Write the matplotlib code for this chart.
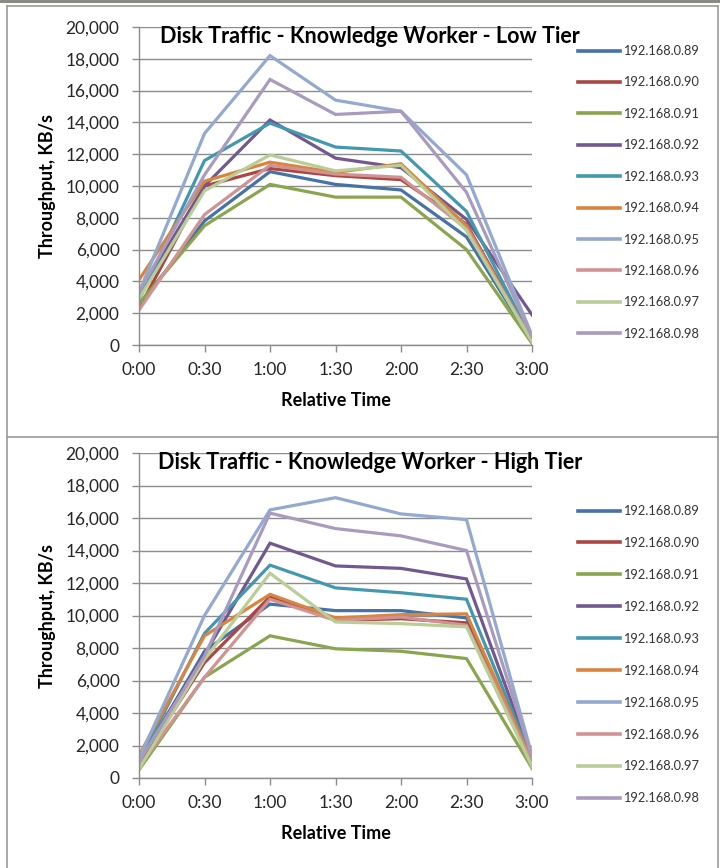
import matplotlib
matplotlib.use("Agg")
import matplotlib.pyplot as plt
from matplotlib.ticker import FuncFormatter, FixedLocator
from matplotlib.lines import Line2D
from matplotlib.patches import Rectangle

plt.rcParams['font.family'] = ['Lato', 'DejaVu Sans']

# ---- data -------------------------------------------------------------
times = ['0:00', '0:30', '1:00', '1:30', '2:00', '2:30', '3:00']
hosts = ['192.168.0.89', '192.168.0.90', '192.168.0.91', '192.168.0.92',
         '192.168.0.93', '192.168.0.94', '192.168.0.95', '192.168.0.96',
         '192.168.0.97', '192.168.0.98']

low_89 = [2500, 7800, 10900, 10100, 9750, 6800, 200]
low_90 = [2300, 10000, 11100, 10650, 10400, 7600, 300]
low_91 = [2600, 7500, 10100, 9300, 9300, 6000, 100]
low_92 = [3200, 10000, 14150, 11750, 11150, 7900, 1900]
low_93 = [2800, 11600, 13950, 12450, 12200, 8400, 300]
low_94 = [4100, 10300, 11500, 10850, 11400, 7500, 200]
low_95 = [3300, 13300, 18200, 15400, 14700, 10700, 600]
low_96 = [2200, 8200, 11300, 10750, 10550, 7300, 300]
low_97 = [2900, 9700, 11950, 10950, 11300, 7200, 200]
low_98 = [3300, 10700, 16700, 14500, 14700, 9600, 500]

high_89 = [900, 7800, 10700, 10300, 10300, 9850, 1000]
high_90 = [800, 7100, 11150, 9700, 9800, 9550, 900]
high_91 = [500, 6200, 8750, 7950, 7800, 7350, 600]
high_92 = [1100, 7600, 14450, 13050, 12900, 12250, 1200]
high_93 = [1000, 8900, 13100, 11700, 11400, 11000, 1100]
high_94 = [1400, 8750, 11300, 9850, 10050, 10100, 1000]
high_95 = [1200, 10000, 16500, 17250, 16250, 15900, 1400]
high_96 = [700, 6200, 11000, 9700, 9900, 9400, 900]
high_97 = [550, 7300, 12600, 9600, 9500, 9300, 700]
high_98 = [1000, 7500, 16300, 15350, 14900, 14000, 1300]

low_tier = [low_89, low_90, low_91, low_92, low_93,
            low_94, low_95, low_96, low_97, low_98]
high_tier = [high_89, high_90, high_91, high_92, high_93,
             high_94, high_95, high_96, high_97, high_98]

colors = ['#4572A7', '#AA4643', '#89A54E', '#71588F', '#4198AF',
          '#DB843D', '#93A9CF', '#D19392', '#B9CD96', '#A99BBD']

y_ticks = list(range(0, 20001, 2000))

# ---- figure -----------------------------------------------------------
W, H = 720, 868
fig = plt.figure(figsize=(W / 100, H / 100), dpi=100)
fig.patch.set_facecolor('white')


def fx(px):
    return px / W


def fy(py):
    return 1 - py / H


# panel frames
frame_col = '#8a8a84'
fig.patches.append(Rectangle((0, fy(3)), 1, 3 / H, transform=fig.transFigure,
                             facecolor=frame_col, edgecolor='none'))
for (x0, y0, x1, y1) in [(7, 6, 718, 6), (7, 6, 7, 868), (718, 6, 718, 868),
                         (7, 437, 718, 437)]:
    fig.add_artist(Line2D([fx(x0), fx(x1)], [fy(y0), fy(y1)],
                          transform=fig.transFigure, color='#9a9a9a', lw=1.2))

grid_col = '#8c8c8c'
text_col = '#262626'


def draw_panel(top, bottom, series, title, legend_top, spacing):
    ax = fig.add_axes([fx(139), fy(bottom), fx(532) - fx(139),
                       fy(top) - fy(bottom)])
    x = list(range(len(times)))
    for vals, c, lab in zip(series, colors, hosts):
        ax.plot(x, vals, color=c, lw=2.3, label=lab, solid_joinstyle='miter')
    ax.set_xlim(0, len(times) - 1)
    ax.set_ylim(0, 20000)
    ax.xaxis.set_major_locator(FixedLocator(x))
    ax.set_xticklabels(times)
    ax.yaxis.set_major_locator(FixedLocator(y_ticks))
    ax.yaxis.set_major_formatter(FuncFormatter(lambda v, p: f'{int(v):,}'))
    ax.grid(axis='y', color=grid_col, lw=1.0)
    ax.set_axisbelow(True)
    for s in ['top', 'right']:
        ax.spines[s].set_visible(False)
    for s in ['left', 'bottom']:
        ax.spines[s].set_color(grid_col)
        ax.spines[s].set_linewidth(1.0)
    ax.tick_params(axis='both', direction='out', length=5, width=1,
                   color=grid_col, labelsize=12.5, labelcolor=text_col)
    ax.tick_params(axis='y', pad=9)
    ax.tick_params(axis='x', pad=7)
    ax.set_xlabel('Relative Time', fontsize=13, fontweight='bold',
                  color='black', labelpad=10)
    ax.set_ylabel('Throughput, KB/s', fontsize=13, fontweight='bold',
                  color='black', labelpad=7)
    fig.text(fx(370), fy(top - 1), title, ha='center', va='top',
             fontsize=15.5, fontweight='bold', color='black')
    leg = ax.legend(loc='upper left',
                    bbox_to_anchor=(fx(578), fy(legend_top)),
                    bbox_transform=fig.transFigure, frameon=False,
                    fontsize=9.2, handlelength=3.3, handletextpad=0.25,
                    labelspacing=spacing, borderpad=0, borderaxespad=0)
    for line in leg.get_lines():
        line.set_linewidth(2.6)
    for t in leg.get_texts():
        t.set_color('#333333')
    return ax


draw_panel(27, 345, low_tier,
           'Disk Traffic - Knowledge Worker - Low Tier', 45, 1.52)
draw_panel(453, 778, high_tier,
           'Disk Traffic - Knowledge Worker - High Tier', 505, 1.56)

fig.savefig('out.png', dpi=100, facecolor='white')
